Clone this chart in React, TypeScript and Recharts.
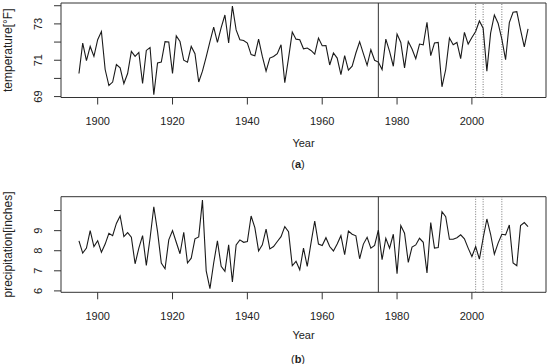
import React from 'react';
import { LineChart, Line, XAxis, YAxis, ReferenceLine, ReferenceArea, Label } from 'recharts';

const START_YEAR = 1895;

const temperature = [
  70.27, 71.94, 70.98, 71.76, 71.21, 72.13, 72.58, 70.49, 69.61, 69.8,
  70.76, 70.58, 69.72, 70.27, 71.49, 71.21, 71.43, 69.72, 71.54, 71.7,
  69.1, 70.85, 70.9, 72.02, 72.0, 70.27, 72.34, 72.03, 71.0, 70.89,
  71.76, 71.36, 69.8, 70.4, 71.18, 72.03, 72.82, 71.98, 72.8, 73.49,
  71.95, 73.98, 72.67, 72.13, 72.09, 71.95, 71.31, 71.25, 72.16, 71.21,
  70.4, 71.12, 71.21, 71.36, 71.85, 69.76, 71.12, 72.55, 72.16, 72.13,
  71.63, 71.67, 71.54, 71.34, 72.22, 71.8, 71.81, 70.74, 71.4, 71.12,
  70.21, 71.25, 70.45, 70.67, 71.4, 72.02, 71.36, 70.72, 71.58, 71.0,
  70.9, 70.49, 72.16, 71.49, 70.67, 72.44, 71.98, 70.58, 72.03, 71.62,
  71.09, 71.89, 71.85, 73.09, 71.25, 71.95, 71.98, 69.54, 70.49, 72.22,
  71.85, 71.98, 71.09, 72.53, 71.89, 72.25, 72.58, 73.16, 72.76, 70.4,
  72.49, 73.49, 73.04, 72.16, 71.03, 73.07, 73.64, 73.67, 72.67, 71.73,
  72.73,
];

const precipitation = [
  8.49, 7.88, 8.13, 9.0, 8.21, 8.5, 7.93, 8.33, 8.87, 8.75,
  9.36, 9.73, 8.7, 8.9, 8.67, 7.35, 8.13, 8.75, 7.27, 8.62,
  10.19, 8.95, 7.39, 7.1, 8.54, 9.0, 8.42, 7.85, 8.92, 7.39,
  7.63, 8.59, 8.69, 10.52, 7.0, 6.11, 7.39, 8.49, 7.22, 6.97,
  8.29, 6.44, 8.29, 8.54, 8.42, 8.46, 9.73, 9.15, 7.99, 8.29,
  9.08, 8.09, 8.21, 8.46, 8.7, 9.2, 8.95, 7.25, 7.47, 7.05,
  8.13, 7.22, 8.38, 9.48, 8.33, 8.26, 8.65, 8.21, 7.99, 8.33,
  8.75, 7.8, 8.98, 8.82, 8.74, 7.6, 8.33, 8.67, 8.13, 8.26,
  9.03, 7.55, 8.62, 8.13, 8.82, 6.86, 9.25, 8.87, 7.42, 8.18,
  8.29, 8.62, 8.42, 6.89, 9.4, 8.13, 8.16, 9.94, 9.69, 8.57,
  8.57, 8.65, 8.79, 8.59, 8.13, 7.71, 8.21, 7.58, 8.62, 9.58,
  8.82, 7.83, 8.38, 8.82, 8.79, 9.28, 7.39, 7.25, 9.25, 9.4,
  9.2,
];

const yearTicks = [1900, 1920, 1940, 1960, 1980, 2000];
const tempTicks = [69, 70, 71, 72, 73, 74];
const tempLabels = [69, 71, 73];
const precTicks = [6, 7, 8, 9, 10];
const precLabels = [6, 7, 8, 9];
const breakYear = 1975;
const eventYears = [2001, 2003, 2008];

const tempData = temperature.map((v, i) => ({ year: START_YEAR + i, value: v }));
const precData = precipitation.map((v, i) => ({ year: START_YEAR + i, value: v }));

const FONT = '"Liberation Sans", Arial, Helvetica, sans-serif';
const INK = '#222';
const X_DOMAIN: [number, number] = [1890.2, 2019.8];

interface PanelProps {
  data: { year: number; value: number }[];
  yDomain: [number, number];
  yTicks: number[];
  yLabels: number[];
  yTitle: string;
  top: number;
  height: number;
  marginTop: number;
  xAxisHeight: number;
  yearOffset: number;
}

function Panel({ data, yDomain, yTicks, yLabels, yTitle, top, height, marginTop, xAxisHeight, yearOffset }: PanelProps) {
  const plotMid = marginTop + (height - marginTop - xAxisHeight) / 2;

  // R draws these labels parallel to the axis
  const renderTick = (props: any) => {
    const { y, payload } = props;
    if (!yLabels.includes(payload.value)) return <g />;
    return (
      <text
        x={42.5}
        y={y}
        transform={`rotate(-90 42.5 ${y})`}
        textAnchor="middle"
        fontSize={11}
        fontFamily={FONT}
        fill={INK}
      >
        {payload.value}
      </text>
    );
  };

  return (
    <div style={{ position: 'absolute', left: 0, top, width: 550, height }}>
      <LineChart width={550} height={height} data={data} margin={{ top: marginTop, right: 4, left: 0, bottom: 0 }}>
        <XAxis
          dataKey="year"
          type="number"
          domain={X_DOMAIN}
          ticks={yearTicks}
          interval={0}
          allowDataOverflow
          axisLine={false}
          tickLine={{ stroke: '#333' }}
          tickSize={7}
          tickMargin={13}
          height={xAxisHeight}
          tick={{ fill: INK, fontSize: 11, fontFamily: FONT }}
        >
          <Label value="Year" position="insideTop" offset={yearOffset} fill={INK} fontSize={11} fontFamily={FONT} />
        </XAxis>
        <YAxis
          type="number"
          domain={yDomain}
          ticks={yTicks}
          interval={0}
          allowDataOverflow
          axisLine={false}
          tickLine={{ stroke: '#333' }}
          tickSize={7}
          width={61}
          tick={renderTick}
          label={{
            content: () => (
              <text
                x={12}
                y={plotMid}
                transform={`rotate(-90 12 ${plotMid})`}
                textAnchor="middle"
                fontSize={12}
                fontFamily={FONT}
                fill={INK}
              >
                {yTitle}
              </text>
            ),
          }}
        />
        <ReferenceArea
          x1={X_DOMAIN[0]}
          x2={X_DOMAIN[1]}
          y1={yDomain[0]}
          y2={yDomain[1]}
          fill="none"
          stroke="#333"
          strokeWidth={1}
          ifOverflow="visible"
        />
        <ReferenceLine x={breakYear} stroke="#333" strokeWidth={1} />
        {eventYears.map((yr) => (
          <ReferenceLine key={yr} x={yr} stroke="#777" strokeWidth={1} strokeDasharray="1 1.5" />
        ))}
        <Line
          type="linear"
          dataKey="value"
          stroke="#1a1a1a"
          strokeWidth={1.1}
          dot={false}
          isAnimationActive={false}
        />
      </LineChart>
    </div>
  );
}

function Tag({ letter, y }: { letter: string; y: number }) {
  return (
    <div
      style={{
        position: 'absolute',
        left: 278,
        width: 40,
        top: y - 7,
        height: 14,
        lineHeight: '14px',
        textAlign: 'center',
        fontFamily: FONT,
        fontSize: 11,
        color: INK,
      }}
    >
      (<b>{letter}</b>)
    </div>
  );
}

export default function App() {
  return (
    <div style={{ position: 'absolute', left: 0, top: 0, width: 550, height: 364, background: '#fff' }}>
      <Panel
        data={tempData}
        yDomain={[68.95, 74.15]}
        yTicks={tempTicks}
        yLabels={tempLabels}
        yTitle="temperature[°F]"
        top={0}
        height={180}
        marginTop={3}
        xAxisHeight={82.5}
        yearOffset={41.5}
      />
      <Tag letter="a" y={164.3} />
      <Panel
        data={precData}
        yDomain={[5.93, 10.69]}
        yTicks={precTicks}
        yLabels={precLabels}
        yTitle="precipitation[inches]"
        top={185}
        height={179}
        marginTop={11.7}
        xAxisHeight={71.7}
        yearOffset={39.2}
      />
      <Tag letter="b" y={358.5} />
    </div>
  );
}
